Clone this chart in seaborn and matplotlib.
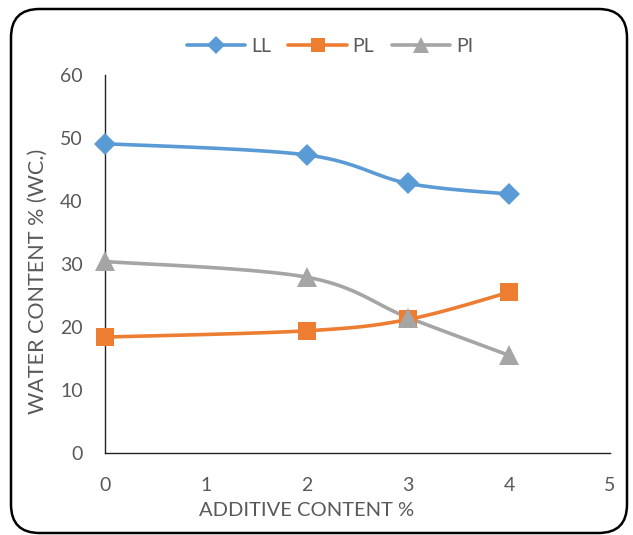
import numpy as np
import pandas as pd
import matplotlib
matplotlib.use("Agg")
import matplotlib.pyplot as plt
from matplotlib.lines import Line2D
from matplotlib.patches import FancyBboxPatch
import seaborn as sns

additive = [0, 2, 3, 4]
LL = [49.1, 47.3, 42.8, 41.1]
PL = [18.4, 19.4, 21.2, 25.5]
PI = [30.4, 27.9, 21.5, 15.5]
series_names = ["LL", "PL", "PI"]
colors = {"LL": "#5B9BD5", "PL": "#ED7D31", "PI": "#A5A5A5"}
markers = {"LL": "D", "PL": "s", "PI": "^"}
msizes = {"LL": 11, "PL": 13, "PI": 14}

sns.set_theme(style="white")
plt.rcParams['font.family'] = ['Lato', 'DejaVu Sans']
txt = "#595959"


def smooth(x, y, n=40):
    # Excel-style smoothed line: cubic Bezier with Catmull-Rom control points
    x = np.asarray(x, float); y = np.asarray(y, float)
    xs, ys = [], []
    N = len(x)
    for i in range(N - 1):
        p0 = np.array([x[max(i - 1, 0)], y[max(i - 1, 0)]])
        p1 = np.array([x[i], y[i]])
        p2 = np.array([x[i + 1], y[i + 1]])
        p3 = np.array([x[min(i + 2, N - 1)], y[min(i + 2, N - 1)]])
        c1 = p1 + (p2 - p0) / 6.0
        c2 = p2 - (p3 - p1) / 6.0
        t = np.linspace(0, 1, n)[:, None]
        pts = (1 - t) ** 3 * p1 + 3 * (1 - t) ** 2 * t * c1 + 3 * (1 - t) * t ** 2 * c2 + t ** 3 * p2
        xs.extend(pts[:, 0]); ys.extend(pts[:, 1])
    return xs, ys


fig = plt.figure(figsize=(6.33, 5.35), dpi=100)
ax = fig.add_axes([105 / 633, 1 - 453 / 535, (610 - 105) / 633, (453 - 75) / 535])

data = {"LL": LL, "PL": PL, "PI": PI}
rows = []
for name in series_names:
    sx, sy = smooth(additive, data[name])
    for a, b in zip(sx, sy):
        rows.append({"x": a, "y": b, "s": name})
curve = pd.DataFrame(rows)
pts = pd.DataFrame([{"x": a, "y": b, "s": n} for n in series_names for a, b in zip(additive, data[n])])

for name in series_names:
    sns.lineplot(data=curve[curve.s == name], x="x", y="y", color=colors[name], lw=2.6,
                 ax=ax, sort=False, estimator=None, legend=False, zorder=2)
for name in series_names:
    d = pts[pts.s == name]
    ax.plot(d.x, d.y, linestyle="none", marker=markers[name], ms=msizes[name],
            color=colors[name], markeredgewidth=0, zorder=3, clip_on=False)

ax.set_xlim(0, 5)
ax.set_ylim(0, 60)
ax.set_xticks(range(0, 6))
ax.set_yticks(range(0, 61, 10))
ax.tick_params(axis="both", length=0, labelsize=14, colors=txt)
ax.tick_params(axis="x", pad=17)
ax.tick_params(axis="y", pad=16)
for s in ["top", "right"]:
    ax.spines[s].set_visible(False)
for s in ["left", "bottom"]:
    ax.spines[s].set_color("#222222")
    ax.spines[s].set_linewidth(1.0)
ax.set_xlabel("ADDITIVE CONTENT %", fontsize=14.5, color=txt, va="center", ha="center")
ax.xaxis.set_label_coords((307 - 105) / 505, (453 - 511) / 378)
ax.set_ylabel("WATER CONTENT % (WC.)", fontsize=15.5, color=txt, va="center", ha="center")
ax.yaxis.set_label_coords((38 - 105) / 505, (453 - 281) / 378)
ax.grid(False)

handles = [Line2D([], [], color=colors[n], lw=2.6, marker=markers[n], ms=msizes[n] * 0.8,
                  markeredgewidth=0) for n in series_names]
fig.legend(handles, series_names, loc="center", bbox_to_anchor=(330 / 633, 1 - 46 / 535),
           ncol=3, frameon=False, fontsize=14, labelcolor=txt, handlelength=3.0,
           columnspacing=0.9, handletextpad=0.3)

border = FancyBboxPatch((11 / 633, 1 - 533 / 535), (627 - 11) / 633, (533 - 9) / 535,
                        boxstyle="round,pad=0,rounding_size=0.045", transform=fig.transFigure,
                        fill=False, edgecolor="black", linewidth=1.8, mutation_aspect=633 / 535)
fig.patches.append(border)

fig.savefig("out.png", dpi=100)
